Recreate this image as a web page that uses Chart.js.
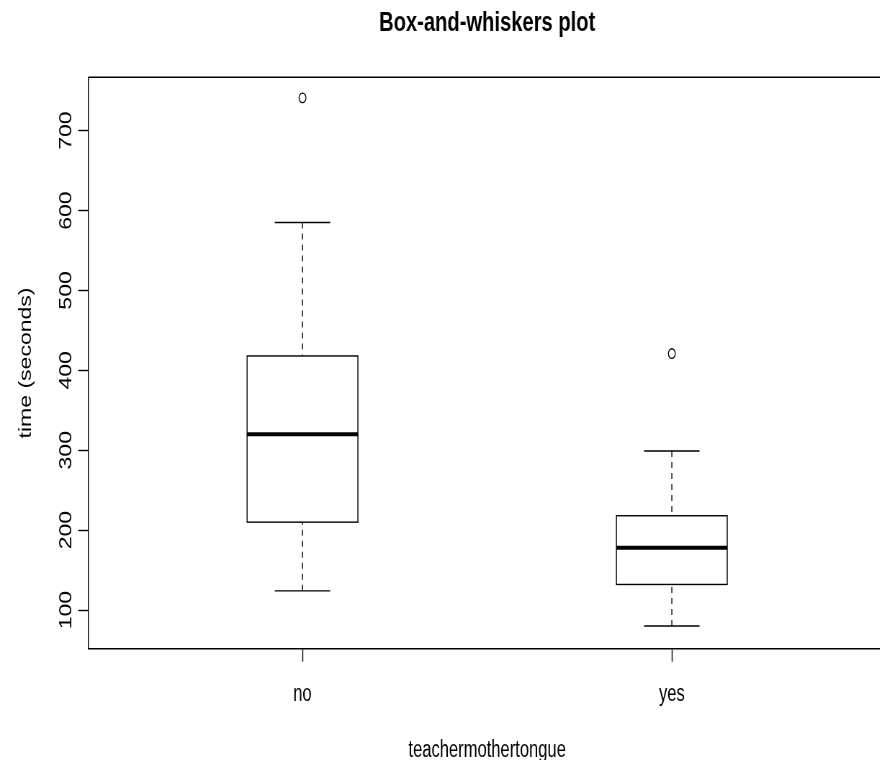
<!DOCTYPE html>
<html>
<head>
<meta charset="utf-8">
<script src="https://cdn.jsdelivr.net/npm/chart.js@4/dist/chart.umd.min.js"></script>
<style>
  html, body { margin: 0; padding: 0; background: #fff; overflow: hidden; width: 880px; height: 760px; }
  /* the plot is laid out on a wider canvas and narrowed horizontally */
  #wrap { width: 1250px; height: 760px; transform: scaleX(0.72); transform-origin: 0 0; }
</style>
</head>
<body>
<div id="wrap"><canvas id="chart" width="1250" height="760"></canvas></div>
<script>
// Five-number summaries per group
const categories    = ['no', 'yes'];
const lowerWhisker  = [124, 80];
const firstQuartile = [210, 132];
const medians       = [320, 178];
const thirdQuartile = [418, 218];
const upperWhisker  = [585, 299];
const outliers      = [[741], [421]];
const yTicks        = [100, 200, 300, 400, 500, 600, 700];

const FONT = '"Liberation Sans", Arial, Helvetica, sans-serif';
const BOX_HALF = 0.15;     // half box width, in category units
const CAP_HALF = 0.075;    // half whisker-cap width
const LINE = 1.4;

const outlierPoints = outliers.flatMap((vals, i) => vals.map(v => ({ x: i + 1, y: v })));

const boxPlugin = {
  id: 'boxWhiskers',
  afterDatasetsDraw(chart) {
    const ctx = chart.ctx;
    const xs = chart.scales.x, ys = chart.scales.y;
    ctx.save();
    ctx.strokeStyle = '#000';
    categories.forEach((c, i) => {
      const cx = xs.getPixelForValue(i + 1);
      const bl = xs.getPixelForValue(i + 1 - BOX_HALF);
      const br = xs.getPixelForValue(i + 1 + BOX_HALF);
      const cl = xs.getPixelForValue(i + 1 - CAP_HALF);
      const cr = xs.getPixelForValue(i + 1 + CAP_HALF);
      const yLo = ys.getPixelForValue(lowerWhisker[i]);
      const yQ1 = ys.getPixelForValue(firstQuartile[i]);
      const yMd = ys.getPixelForValue(medians[i]);
      const yQ3 = ys.getPixelForValue(thirdQuartile[i]);
      const yHi = ys.getPixelForValue(upperWhisker[i]);

      // dashed whiskers, drawn from the caps toward the box
      ctx.lineWidth = LINE;
      ctx.setLineDash([6, 5]);
      ctx.beginPath();
      ctx.moveTo(cx, yLo); ctx.lineTo(cx, yQ1);
      ctx.moveTo(cx, yHi); ctx.lineTo(cx, yQ3);
      ctx.stroke();
      ctx.setLineDash([]);

      // caps
      ctx.beginPath();
      ctx.moveTo(cl, yLo); ctx.lineTo(cr, yLo);
      ctx.moveTo(cl, yHi); ctx.lineTo(cr, yHi);
      ctx.stroke();

      // box
      ctx.strokeRect(bl, yQ3, br - bl, yQ1 - yQ3);

      // median
      ctx.lineWidth = 4;
      ctx.beginPath();
      ctx.moveTo(bl, yMd); ctx.lineTo(br, yMd);
      ctx.stroke();
    });
    ctx.restore();
  },
  afterDraw(chart) {
    const ctx = chart.ctx;
    const xs = chart.scales.x, ys = chart.scales.y;
    const { left, right, top, bottom } = chart.chartArea;
    ctx.save();
    // top edge of the frame
    ctx.strokeStyle = '#000';
    ctx.lineWidth = LINE;
    ctx.beginPath();
    ctx.moveTo(left, top); ctx.lineTo(right, top);
    ctx.stroke();

    ctx.fillStyle = '#000';
    ctx.font = '23px ' + FONT;
    // y tick labels, parallel to the axis
    ys.ticks.forEach(t => {
      const y = ys.getPixelForValue(t.value);
      ctx.save();
      ctx.translate(left - 23.4, y);
      ctx.rotate(-Math.PI / 2);
      ctx.textAlign = 'center';
      ctx.textBaseline = 'alphabetic';
      ctx.fillText(t.label, 0, 0);
      ctx.restore();
    });
    // x tick labels
    ctx.textAlign = 'center';
    ctx.textBaseline = 'alphabetic';
    xs.ticks.forEach(t => {
      ctx.fillText(t.label, xs.getPixelForValue(t.value), bottom + 52);
    });
    // axis titles
    const midX = (left + right) / 2;
    ctx.fillText('teachermothertongue', midX, bottom + 108);
    ctx.save();
    ctx.translate(left - 79.7, (top + bottom) / 2);
    ctx.rotate(-Math.PI / 2);
    ctx.fillText('time (seconds)', 0, 0);
    ctx.restore();
    // main title
    ctx.font = 'bold 28px ' + FONT;
    ctx.fillText('Box-and-whiskers plot', midX, 31);
    ctx.restore();
  }
};

new Chart(document.getElementById('chart'), {
  type: 'scatter',
  data: {
    datasets: [{
      label: 'outliers',
      data: outlierPoints,
      pointStyle: 'circle',
      pointRadius: 4.8,
      pointHoverRadius: 4.8,
      borderWidth: 1.3,
      borderColor: '#000',
      backgroundColor: 'rgba(0,0,0,0)'
    }]
  },
  options: {
    responsive: false,
    animation: false,
    devicePixelRatio: 1,
    layout: { padding: { left: 0, right: 19.4, top: 77.3, bottom: 0 } },
    plugins: { legend: { display: false }, title: { display: false }, tooltip: { enabled: false } },
    scales: {
      x: {
        type: 'linear',
        min: 0.42,
        max: 2.58,
        afterBuildTicks: s => { s.ticks = categories.map((c, i) => ({ value: i + 1 })); },
        afterFit: s => { s.height = 111.3; },
        ticks: { display: false, callback: v => categories[v - 1] },
        grid: { display: true, drawOnChartArea: false, drawTicks: true, tickLength: 13, tickColor: '#000', tickWidth: LINE },
        border: { display: true, color: '#000', width: LINE }
      },
      y: {
        type: 'linear',
        min: 51.6,
        max: 766.8,
        afterBuildTicks: s => { s.ticks = yTicks.map(v => ({ value: v })); },
        afterFit: s => { s.width = 122.6; },
        ticks: { display: false, callback: v => String(v) },
        grid: { display: true, drawOnChartArea: false, drawTicks: true, tickLength: 14, tickColor: '#000', tickWidth: LINE },
        border: { display: true, color: '#000', width: LINE }
      }
    }
  },
  plugins: [boxPlugin]
});
</script>
</body>
</html>
